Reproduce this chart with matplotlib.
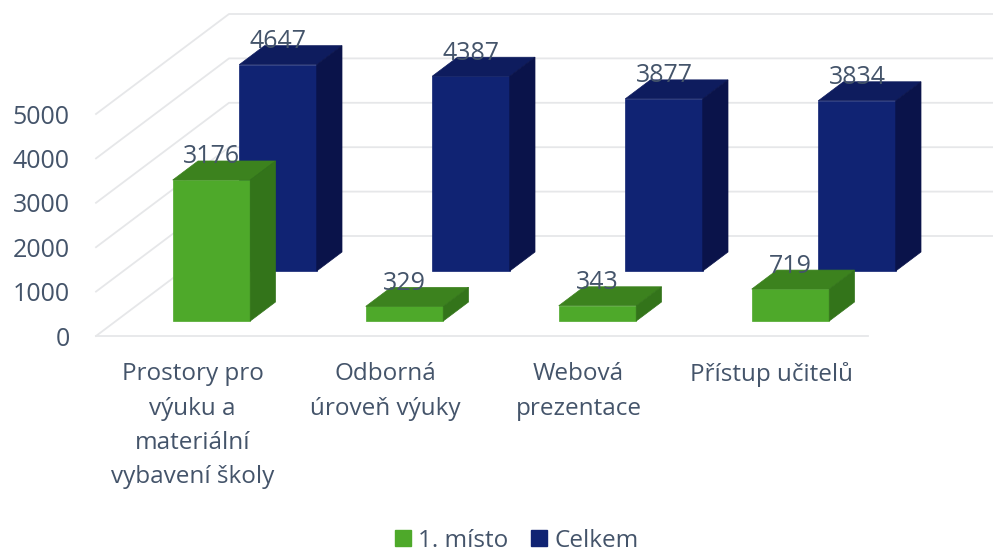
"""
3D style clustered bars, faces built from an oblique projection
"""
from matplotlib import pyplot as plt
from matplotlib.patches import Patch

categories = [
    "Prostory pro\nvýuku a\nmateriální\nvybavení školy",
    "Odborná\núroveň výuky",
    "Webová\nprezentace",
    "Přístup učitelů",
]
first_place = [3176, 329, 343, 719]
total = [4647, 4387, 3877, 3834]
y_ticks = [0, 1000, 2000, 3000, 4000, 5000]

TEXT = "#44546a"
GRID = "#e6e7e9"
GREEN = ("#4ea92a", "#3c821e", "#33741a")
BLUE = ("#102373", "#0e1c5e", "#0a134a")

# size of the whole floor depth, in data units
DEPTH_X = 133 / 193
DEPTH_Y = 100 / 222 * 5000
BAR_WIDTH = 77.5 / 193


def project(x: float, value: float, depth: float) -> tuple:
    return x + depth * DEPTH_X, value + depth * DEPTH_Y


def drawBars(ax, values: list, front: float, back: float, colors: tuple) -> None:
    for i, value in enumerate(values):
        left = i - BAR_WIDTH / 2 - 0.005
        right = left + BAR_WIDTH
        center, base = project(left + BAR_WIDTH / 2, 0, front)
        ax.bar(center, value, BAR_WIDTH, bottom=base, color=colors[0], edgecolor=colors[0],
               linewidth=0.5, clip_on=False, zorder=3)
        top = [
            project(left, value, front),
            project(right, value, front),
            project(right, value, back),
            project(left, value, back),
        ]
        side = [
            project(right, 0, front),
            project(right, 0, back),
            project(right, value, back),
            project(right, value, front),
        ]
        ax.fill(*zip(*top), color=colors[1], linewidth=0.5, clip_on=False, zorder=3)
        ax.fill(*zip(*side), color=colors[2], linewidth=0.5, clip_on=False, zorder=3)
        ax.text(center, base + value + 23 / 222 * 5000, str(value), color=TEXT, fontsize=18,
                ha="center", va="center", zorder=5)


def main():
    plt.rcParams["font.family"] = "Open Sans"
    fig = plt.figure(figsize=(9.93, 5.54), dpi=100)
    ax = fig.add_axes([96 / 993, (554 - 336) / 554, 772 / 993, 222 / 554])

    for tick in y_ticks:
        back_x, back_y = project(-0.5, tick, 1)
        ax.plot([-0.5, back_x, 3.5 + DEPTH_X], [tick, back_y, back_y], color=GRID,
                linewidth=1.3, clip_on=False, zorder=1)
    ax.plot([-0.5, 3.5], [0, 0], color=GRID, linewidth=1.3, clip_on=False, zorder=1)

    drawBars(ax, total, 0.65, 0.84, BLUE)
    drawBars(ax, first_place, 0.15, 0.34, GREEN)

    ax.set_xlim(-0.5, 3.5)
    ax.set_ylim(0, 5000)
    ax.set_xticks(range(len(categories)))
    ax.set_xticklabels(categories, fontsize=17.5, color=TEXT, linespacing=1.57, va="top")
    ax.set_yticks(y_ticks)
    ax.set_yticklabels(y_ticks, fontsize=18, color=TEXT)
    ax.tick_params(axis="x", length=0, pad=19)
    ax.tick_params(axis="y", length=0, pad=19)
    for spine in ax.spines.values():
        spine.set_visible(False)
    ax.patch.set_visible(False)

    handles = [Patch(color=GREEN[0], label="1. místo"), Patch(color=BLUE[0], label="Celkem")]
    fig.legend(handles=handles, ncol=2, loc="lower center", bbox_to_anchor=(0.5205, -0.037),
               frameon=False, fontsize=17.5, labelcolor=TEXT, handlelength=0.66, handleheight=0.66,
               handletextpad=0.29, columnspacing=0.95)

    fig.savefig("out.png", dpi=100)


if __name__ == "__main__":
    main()
